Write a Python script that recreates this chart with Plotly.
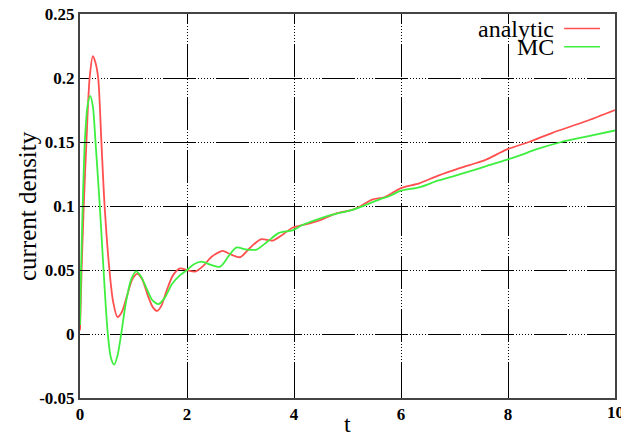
import plotly.graph_objects as go

# ---- data ----
t_analytic = [0.0, 0.03, 0.07, 0.12, 0.18, 0.24, 0.29, 0.34, 0.40, 0.46, 0.55, 0.62, 0.70, 0.78,
              0.88, 0.98, 1.07, 1.16, 1.26, 1.36, 1.44, 1.52, 1.62, 1.74, 1.87, 2.0, 2.15, 2.3,
              2.45, 2.6, 2.67, 2.8, 2.99, 3.17, 3.38, 3.6, 3.8, 3.97, 4.15, 4.34, 4.55, 4.78,
              5.09, 5.25, 5.46, 5.7, 6.0, 6.34, 6.65, 6.96, 7.28, 7.58, 7.97, 8.39, 8.82, 9.44, 10.0]
j_analytic = [0.003, 0.05, 0.1, 0.15, 0.2, 0.217, 0.212, 0.2, 0.15, 0.1, 0.05, 0.025, 0.0133, 0.017,
              0.03, 0.043, 0.047, 0.043, 0.031, 0.021, 0.018, 0.022, 0.034, 0.046, 0.0513, 0.050, 0.0487, 0.053,
              0.060, 0.064, 0.065, 0.0625, 0.060, 0.067, 0.074, 0.073, 0.078, 0.083, 0.085, 0.087, 0.090, 0.094,
              0.097, 0.100, 0.105, 0.107, 0.114, 0.1177, 0.123, 0.1276, 0.132, 0.136, 0.144, 0.150, 0.157, 0.166, 0.175]

t_mc = [0.0, 0.02, 0.05, 0.09, 0.14, 0.19, 0.24, 0.29, 0.37, 0.44, 0.52, 0.58, 0.64, 0.70, 0.77,
        0.86, 0.96, 1.05, 1.14, 1.25, 1.36, 1.47, 1.58, 1.72, 1.87, 2.0, 2.13, 2.27, 2.45, 2.62,
        2.78, 2.92, 3.11, 3.3, 3.5, 3.72, 3.97, 4.15, 4.4, 4.7, 5.09, 5.35, 5.59, 5.8, 6.0, 6.34,
        6.7, 6.96, 7.28, 7.58, 7.97, 8.25, 8.51, 9.0, 9.44, 10.0]
j_mc = [0.007, 0.05, 0.1, 0.15, 0.178, 0.186, 0.178, 0.15, 0.1, 0.05, 0.0, -0.019, -0.024, -0.017, 0.0,
        0.025, 0.043, 0.049, 0.045, 0.035, 0.026, 0.0234, 0.028, 0.039, 0.046, 0.050, 0.0545, 0.0565, 0.054, 0.0526,
        0.061, 0.0675, 0.0660, 0.066, 0.072, 0.079, 0.081, 0.085, 0.089, 0.093, 0.097, 0.101, 0.105, 0.108, 0.112, 0.1146,
        0.120, 0.123, 0.127, 0.131, 0.136, 0.140, 0.144, 0.150, 0.154, 0.159]

x_ticks = [0, 2, 4, 6, 8, 10]
y_ticks = [-0.05, 0, 0.05, 0.1, 0.15, 0.2, 0.25]
y_tick_text = ["-0.05", "0", "0.05", "0.1", "0.15", "0.2", "0.25"]
x_title = "t"
y_title = "current density"

series_names = ["analytic", "MC"]
series_colors = ["#ff4f4f", "#3fef3f"]

SERIF = "Liberation Serif, Times New Roman, serif"
grid_dash = "10px,2px,1px,2px,1px,2px,1px,2px,1px,2px,1px,2px,1px,2px,23px,0px"
TICKFONT = dict(family=SERIF, size=17, color="black", weight="bold")

fig = go.Figure()
for name, tx, jy, col in [(series_names[0], t_analytic, j_analytic, series_colors[0]),
                          (series_names[1], t_mc, j_mc, series_colors[1])]:
    fig.add_trace(go.Scatter(x=tx, y=jy, mode="lines", name=name,
                             line=dict(color=col, width=1.8, shape="spline", smoothing=0.8),
                             showlegend=False))

fig.update_layout(
    width=621, height=437,
    margin=dict(l=80, r=4, t=14, b=39),
    paper_bgcolor="white", plot_bgcolor="white",
    font=dict(family=SERIF, color="black"),
)
fig.update_xaxes(
    range=[0, 10], tickvals=x_ticks, ticktext=[str(v) for v in x_ticks],
    showgrid=True, gridcolor="black", gridwidth=1, griddash=grid_dash,
    showline=True, linecolor="#444444", linewidth=2, mirror=True,
    ticks="inside", ticklen=7, tickcolor="black",
    tickfont=TICKFONT, ticklabelstandoff=0,
    zeroline=False,
)
fig.update_yaxes(
    range=[-0.05, 0.25], tickvals=y_ticks, ticktext=y_tick_text,
    showgrid=True, gridcolor="black", gridwidth=1, griddash=grid_dash,
    showline=True, linecolor="#444444", linewidth=2, mirror=True,
    ticks="inside", ticklen=7, tickcolor="black",
    tickfont=TICKFONT,
    zeroline=False,
)

# axis titles
fig.add_annotation(xref="paper", yref="paper", x=0.5, y=0, yshift=-26, text=x_title,
                   showarrow=False, xanchor="center", yanchor="middle",
                   font=dict(family=SERIF, size=24, color="black"))
fig.add_annotation(xref="paper", yref="paper", x=0, y=0.5, xshift=-53, text=y_title,
                   showarrow=False, xanchor="center", yanchor="middle", textangle=-90,
                   font=dict(family=SERIF, size=25, color="black"))

# last x tick label sits at the canvas edge (partly cut off, as in the reference)
fig.add_annotation(xref="x", yref="paper", x=x_ticks[-1], y=0, yshift=-3, text=str(x_ticks[-1]),
                   showarrow=False, xanchor="center", yanchor="top", font=TICKFONT)

# custom legend (top right, text right-aligned with line samples)
legend_y = [0.962, 0.915]
for name, col, ly in zip(series_names, series_colors, legend_y):
    fig.add_annotation(xref="paper", yref="paper", x=0.889, y=ly, text=name, showarrow=False,
                       xanchor="right", yanchor="middle",
                       font=dict(family=SERIF, size=24, color="black"))
    fig.add_shape(type="line", xref="paper", yref="paper", x0=0.905, x1=0.972, y0=ly, y1=ly,
                  line=dict(color=col, width=1.5))

fig.write_html("out.html")
